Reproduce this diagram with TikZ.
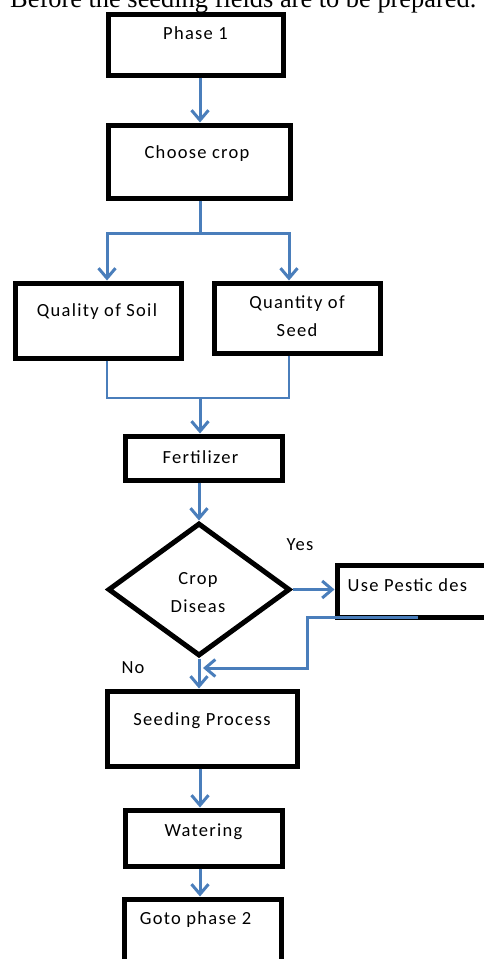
\documentclass[tikz,border=0pt]{standalone}
\usepackage{fontspec}
\setmainfont[LetterSpace=7]{Carlito}
\newfontfamily\headfont{Liberation Serif}
\usetikzlibrary{calc,positioning,arrows.meta,shapes.geometric}
\definecolor{flowblue}{RGB}{74,126,187}

\begin{document}
\begin{tikzpicture}[x=1pt,y=-1pt,
    box/.style={draw,line width=5pt,rectangle,inner sep=0pt},
    txt/.style={font=\fontsize{18.5}{28}\selectfont,align=center,inner sep=0pt},
    flow/.style={draw=flowblue,line width=3pt,-{Straight Barb[length=10pt,width=17pt]}},
    mergeline/.style={draw=flowblue,line width=2.3pt}]

  \useasboundingbox (0,0) rectangle (484,959);
  \clip (0,0) rectangle (484,959);

  \node [anchor=base west,inner sep=0pt,font=\headfont\fontsize{26.4}{30}\selectfont] at (10,7) (title) {Before the seeding fields are to be prepared.};

  \coordinate (spine) at (200,0);

  \node [box, minimum width=175pt, minimum height=61pt] at (195.5,44.5) (phase1) {};
  \node [txt] at ($(phase1.north)+(0,22)$) (phase1_label) {Phase 1};

  \node [box, minimum width=182pt, minimum height=73pt] at (199,161.5) (choose) {};
  \node [txt] at ($(choose.north)+(-2,31)$) (choose_label) {Choose crop};

  \node [box, minimum width=166pt, minimum height=75pt] at (98,320.5) (soil) {};
  \node [txt] at ($(soil.north)+(-1,31)$) (soil_label) {Quality of Soil};

  \node [box, minimum width=166pt, minimum height=70pt] at (297,318) (seedq) {};
  \node [txt] at ($(seedq.north)+(0,36)$) (seedq_label) {Quantity of\\Seed};

  \node [box, minimum width=157pt, minimum height=44pt] at (203.5,458) (fert) {};
  \node [txt] at ($(fert.north)+(-3,24)$) (fert_label) {Fertilizer};

  \node [draw, line width=5pt, diamond, inner sep=0pt, minimum width=182pt, minimum height=133pt] at (199,589.5) (disease) {};
  \node [txt] at ($(disease)+(-1,3)$) (disease_label) {Crop\\Diseas};

  \node [box, minimum width=223pt, minimum height=52pt] at (448.5,591) (pest) {};
  \node [txt, anchor=west] at ($(pest.north west)+(13,23)$) (pest_label) {Use Pestic des};

  \node [box, minimum width=190pt, minimum height=75pt] at (202,728.5) (seeding) {};
  \node [txt] at ($(seeding.north)+(0,32)$) (seeding_label) {Seeding Process};

  \node [box, minimum width=157pt, minimum height=56pt] at (203.5,838) (water) {};
  \node [txt] at ($(water.north)+(0,24)$) (water_label) {Watering};

  \node [box, minimum width=157pt, minimum height=91pt] at (202.5,944.5) (goto) {};
  \node [txt] at ($(goto.north)+(-7,23)$) (goto_label) {Goto phase 2};

  \node [txt] at (300,545) (yes_label) {Yes};
  \node [txt] at (133,668) (no_label) {No};

  \coordinate (split) at (200,233);
  \coordinate (merge) at (200,398);
  \coordinate (back) at (203,668);

  \draw [flow] (phase1.south -| spine) -- (choose.north -| spine);
  \draw [flow] (choose.south -| spine) -- (split) -| ($(soil.north)+(9,0)$);
  \draw [flow] (split) -| ($(seedq.north)+(-8,0)$);

  \draw [mergeline] ($(soil.south)+(9,0)$) |- (merge);
  \draw [mergeline] ($(seedq.south)+(-8,0)$) |- (merge);
  \draw [flow] (merge) -- (fert.north -| spine);

  \draw [flow] (fert.south -| disease.north) -- (disease.north);
  \draw [flow] (disease.east) -- (disease.east -| pest.west);
  \draw [flow] ($(pest.south west)+(83,-2.5)$) -- ++(-110,0) |- (back);

  \draw [flow] (disease.south) -- (disease.south |- seeding.north);
  \draw [flow] (seeding.south -| spine) -- (water.north -| spine);
  \draw [flow] (water.south -| spine) -- (goto.north -| spine);

\end{tikzpicture}
\end{document}
